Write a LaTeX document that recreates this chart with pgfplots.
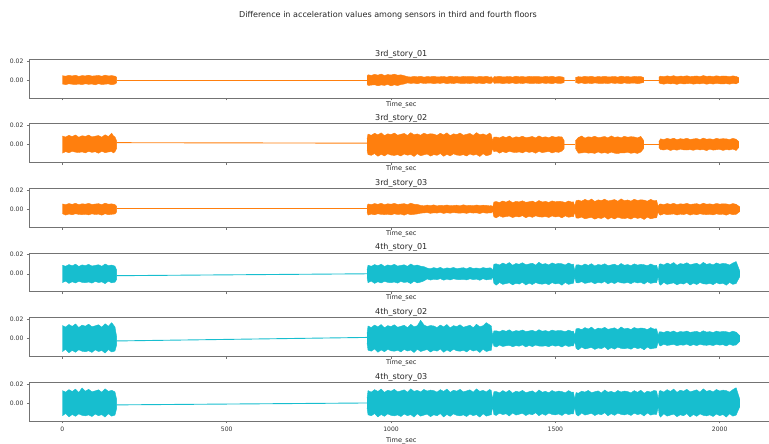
\documentclass[border=0pt]{standalone}
\usepackage{fontspec}
\setmainfont{DejaVu Sans}
\usepackage{pgfplots}
\pgfplotsset{compat=1.18}
\definecolor{tabor}{HTML}{FF7F0E}
\definecolor{tabcy}{HTML}{17BECF}
\pgfplotsset{
 panel/.style={
  scale only axis, width=739.5bp, height=38.8bp, anchor=south west,
  xmin=-100, xmax=2150, ymin=-0.0189, ymax=0.0218,
  axis x line=box, axis y line=left,
  axis line style={-, draw=black!55, line width=0.6bp},
  xtick={0,500,1000,1500,2000}, xticklabels={},
  ytick={0,0.02}, yticklabels={0.00,0.02}, scaled y ticks=false, scaled x ticks=false,
  xtick pos=left, ytick pos=left,
  tick align=outside, major tick length=2.5bp,
  tick style={draw=black!55, line width=0.5bp},
  ticklabel style={font=\fontsize{6.1}{7}\selectfont, text=black!80},
  /pgf/number format/assume math mode=true,
  xlabel={Time\_sec},
  xlabel style={at={(axis description cs:0.5,0)}, anchor=north, yshift=-2.5bp, xshift=2bp, font=\fontsize{6.6}{7.5}\selectfont, text=black!85, inner sep=0.5bp},
  every axis title/.style={at={(0.5,1)}, anchor=south, yshift=0bp, xshift=2bp, font=\fontsize{8.1}{9}\selectfont, text=black!85, inner sep=1bp},
 },
 band/.style={fill=#1, draw=#1, line width=0.4bp, line join=round, mark=none},
 conn/.style={color=#1, line width=0.9bp, mark=none},
}
\begin{document}
\begin{tikzpicture}
\useasboundingbox (0,0) rectangle (769bp,444bp);
\node[font=\fontsize{8.1}{9}\selectfont, text=black!85] at (388bp,429bp) {Difference in acceleration values among sensors in third and fourth floors};

% ---------- 3rd_story_01 ----------
\begin{axis}[panel, at={(29.5bp,346bp)}, title={3rd\_story\_01}]
\addplot[conn=tabor] coordinates {(165,0) (927,0)};
\addplot[conn=tabor] coordinates {(1527,0) (1561,0)};
\addplot[conn=tabor] coordinates {(1769,0) (1815,0)};
\addplot[band=tabor] coordinates {(0,0.0045)(10,0.0040)(20,0.0049)(30,0.0042)(40,0.0050)(50,0.0038)(60,0.0046)(70,0.0043)(80,0.0050)(90,0.0041)(100,0.0044)(110,0.0048)(120,0.0039)(130,0.0051)(140,0.0042)(150,0.0046)(160,0.0040)(165,0.0030)
(165,-0.0030)(160,-0.0043)(150,-0.0050)(140,-0.0041)(130,-0.0044)(120,-0.0048)(110,-0.0039)(100,-0.0051)(90,-0.0042)(80,-0.0046)(70,-0.0040)(60,-0.0049)(50,-0.0043)(40,-0.0047)(30,-0.0045)(20,-0.0040)(10,-0.0049)(0,-0.0042)};
\addplot[band=tabor] coordinates {(927,0.0040)(930,0.0055)(940,0.0048)(950,0.0059)(960,0.0051)(970,0.0062)(980,0.0047)(990,0.0057)(1000,0.0052)(1010,0.0061)(1020,0.0050)(1030,0.0054)(1040,0.0045)(1050,0.0035)(1060,0.0031)(1070,0.0038)(1080,0.0033)(1090,0.0039)(1100,0.0030)(1110,0.0036)(1120,0.0033)(1130,0.0039)(1140,0.0032)(1150,0.0034)(1160,0.0037)(1170,0.0030)(1180,0.0040)(1190,0.0033)(1200,0.0036)(1210,0.0031)(1220,0.0038)(1230,0.0034)(1240,0.0036)(1250,0.0035)(1260,0.0031)(1270,0.0038)(1280,0.0033)(1290,0.0039)(1300,0.0030)(1306,0.0034)(1310,0.0012)(1314,0.0036)(1320,0.0033)(1330,0.0039)(1340,0.0032)(1350,0.0034)(1360,0.0037)(1370,0.0030)(1380,0.0040)(1390,0.0033)(1400,0.0036)(1410,0.0031)(1420,0.0038)(1430,0.0034)(1440,0.0036)(1450,0.0035)(1460,0.0031)(1470,0.0038)(1480,0.0033)(1490,0.0039)(1500,0.0030)(1510,0.0036)(1520,0.0033)(1527,0.0025)
(1527,-0.0025)(1520,-0.0034)(1510,-0.0037)(1500,-0.0030)(1490,-0.0040)(1480,-0.0033)(1470,-0.0036)(1460,-0.0031)(1450,-0.0038)(1440,-0.0034)(1430,-0.0036)(1420,-0.0035)(1410,-0.0031)(1400,-0.0038)(1390,-0.0033)(1380,-0.0039)(1370,-0.0030)(1360,-0.0036)(1350,-0.0033)(1340,-0.0039)(1330,-0.0032)(1320,-0.0034)(1314,-0.0035)(1310,-0.0012)(1306,-0.0033)(1300,-0.0037)(1290,-0.0030)(1280,-0.0040)(1270,-0.0033)(1260,-0.0036)(1250,-0.0031)(1240,-0.0038)(1230,-0.0034)(1220,-0.0036)(1210,-0.0035)(1200,-0.0031)(1190,-0.0038)(1180,-0.0033)(1170,-0.0039)(1160,-0.0030)(1150,-0.0036)(1140,-0.0033)(1130,-0.0039)(1120,-0.0032)(1110,-0.0034)(1100,-0.0037)(1090,-0.0030)(1080,-0.0040)(1070,-0.0033)(1060,-0.0036)(1050,-0.0031)(1040,-0.0042)(1030,-0.0048)(1020,-0.0059)(1010,-0.0051)(1000,-0.0062)(990,-0.0047)(980,-0.0057)(970,-0.0052)(960,-0.0061)(950,-0.0050)(940,-0.0054)(930,-0.0058)(927,-0.0040)};
\addplot[band=tabor] coordinates {(1561,0.0025)(1570,0.0035)(1580,0.0031)(1590,0.0038)(1600,0.0033)(1610,0.0039)(1620,0.0030)(1630,0.0036)(1640,0.0033)(1650,0.0039)(1660,0.0032)(1670,0.0034)(1680,0.0037)(1690,0.0030)(1700,0.0040)(1710,0.0033)(1720,0.0036)(1730,0.0031)(1740,0.0038)(1750,0.0034)(1760,0.0036)(1769,0.0025)
(1769,-0.0025)(1760,-0.0033)(1750,-0.0039)(1740,-0.0032)(1730,-0.0034)(1720,-0.0037)(1710,-0.0030)(1700,-0.0040)(1690,-0.0033)(1680,-0.0036)(1670,-0.0031)(1660,-0.0038)(1650,-0.0034)(1640,-0.0036)(1630,-0.0035)(1620,-0.0031)(1610,-0.0038)(1600,-0.0033)(1590,-0.0039)(1580,-0.0030)(1570,-0.0036)(1561,-0.0025)};
\addplot[band=tabor] coordinates {(1815,0.0030)(1820,0.0040)(1830,0.0035)(1840,0.0043)(1850,0.0037)(1860,0.0045)(1870,0.0034)(1880,0.0041)(1890,0.0038)(1900,0.0044)(1910,0.0036)(1920,0.0039)(1930,0.0042)(1940,0.0035)(1950,0.0046)(1960,0.0038)(1970,0.0041)(1980,0.0036)(1990,0.0044)(2000,0.0038)(2010,0.0042)(2020,0.0040)(2030,0.0035)(2040,0.0043)(2050,0.0037)(2058,0.0025)
(2058,-0.0025)(2050,-0.0041)(2040,-0.0036)(2030,-0.0044)(2020,-0.0038)(2010,-0.0042)(2000,-0.0040)(1990,-0.0035)(1980,-0.0043)(1970,-0.0037)(1960,-0.0045)(1950,-0.0034)(1940,-0.0041)(1930,-0.0038)(1920,-0.0044)(1910,-0.0036)(1900,-0.0039)(1890,-0.0042)(1880,-0.0035)(1870,-0.0046)(1860,-0.0038)(1850,-0.0041)(1840,-0.0036)(1830,-0.0044)(1820,-0.0038)(1815,-0.0030)};
\end{axis}

% ---------- 3rd_story_02 ----------
\begin{axis}[panel, at={(29.5bp,281.4bp)}, title={3rd\_story\_02}]
\addplot[conn=tabor] coordinates {(165,0.002) (927,0.0015)};
\addplot[conn=tabor] coordinates {(1527,0.0005) (1561,0.0005)};
\addplot[conn=tabor] coordinates {(1769,0.0005) (1815,0.0005)};
\addplot[band=tabor] coordinates {(0,0.0090)(10,0.0079)(20,0.0097)(30,0.0084)(40,0.0101)(50,0.0077)(60,0.0093)(70,0.0086)(80,0.0099)(90,0.0081)(100,0.0088)(110,0.0095)(120,0.0078)(130,0.0103)(140,0.0085)(150,0.0120)(155,0.0092)(160,0.0080)(165,0.0040)
(165,-0.0040)(160,-0.0076)(155,-0.0088)(150,-0.0072)(140,-0.0078)(130,-0.0085)(120,-0.0070)(110,-0.0091)(100,-0.0075)(90,-0.0082)(80,-0.0071)(70,-0.0087)(60,-0.0077)(50,-0.0083)(40,-0.0080)(30,-0.0070)(20,-0.0086)(10,-0.0074)(0,-0.0090)};
\addplot[band=tabor] coordinates {(927,0.0060)(930,0.0110)(940,0.0097)(950,0.0119)(960,0.0102)(970,0.0123)(980,0.0094)(990,0.0113)(1000,0.0105)(1010,0.0121)(1020,0.0099)(1030,0.0108)(1040,0.0117)(1050,0.0096)(1060,0.0125)(1070,0.0103)(1080,0.0112)(1090,0.0098)(1100,0.0120)(1110,0.0106)(1120,0.0114)(1130,0.0110)(1140,0.0097)(1150,0.0119)(1160,0.0102)(1170,0.0123)(1180,0.0094)(1190,0.0113)(1200,0.0105)(1210,0.0121)(1220,0.0099)(1230,0.0108)(1240,0.0117)(1250,0.0096)(1260,0.0125)(1270,0.0103)(1280,0.0112)(1290,0.0098)(1300,0.0120)(1305,0.0105)(1309,0.0040)(1313,0.0078)(1320,0.0080)(1330,0.0070)(1340,0.0086)(1350,0.0074)(1360,0.0090)(1370,0.0068)(1380,0.0082)(1390,0.0076)(1400,0.0088)(1410,0.0072)(1420,0.0078)(1430,0.0085)(1440,0.0070)(1450,0.0091)(1460,0.0075)(1470,0.0082)(1480,0.0071)(1490,0.0087)(1500,0.0077)(1510,0.0083)(1520,0.0080)(1527,0.0040)
(1527,-0.0040)(1520,-0.0068)(1510,-0.0082)(1500,-0.0076)(1490,-0.0088)(1480,-0.0072)(1470,-0.0078)(1460,-0.0085)(1450,-0.0070)(1440,-0.0091)(1430,-0.0075)(1420,-0.0082)(1410,-0.0071)(1400,-0.0087)(1390,-0.0077)(1380,-0.0083)(1370,-0.0080)(1360,-0.0070)(1350,-0.0086)(1340,-0.0074)(1330,-0.0090)(1320,-0.0068)(1313,-0.0075)(1309,-0.0040)(1305,-0.0100)(1300,-0.0108)(1290,-0.0117)(1280,-0.0096)(1270,-0.0125)(1260,-0.0103)(1250,-0.0112)(1240,-0.0098)(1230,-0.0120)(1220,-0.0106)(1210,-0.0114)(1200,-0.0110)(1190,-0.0097)(1180,-0.0119)(1170,-0.0102)(1160,-0.0123)(1150,-0.0094)(1140,-0.0113)(1130,-0.0105)(1120,-0.0121)(1110,-0.0099)(1100,-0.0108)(1090,-0.0117)(1080,-0.0096)(1070,-0.0125)(1060,-0.0103)(1050,-0.0112)(1040,-0.0098)(1030,-0.0120)(1020,-0.0106)(1010,-0.0114)(1000,-0.0110)(990,-0.0097)(980,-0.0119)(970,-0.0102)(960,-0.0123)(950,-0.0094)(940,-0.0113)(930,-0.0105)(927,-0.0060)};
\addplot[band=tabor] coordinates {(1561,0.0040)(1570,0.0074)(1580,0.0090)(1590,0.0068)(1600,0.0082)(1610,0.0076)(1620,0.0088)(1630,0.0072)(1640,0.0078)(1650,0.0085)(1660,0.0070)(1670,0.0091)(1680,0.0075)(1690,0.0082)(1700,0.0071)(1710,0.0087)(1720,0.0077)(1730,0.0083)(1740,0.0080)(1750,0.0070)(1760,0.0086)(1769,0.0040)
(1769,-0.0040)(1760,-0.0078)(1750,-0.0093)(1740,-0.0085)(1730,-0.0092)(1720,-0.0080)(1710,-0.0088)(1700,-0.0086)(1690,-0.0094)(1680,-0.0090)(1670,-0.0079)(1660,-0.0093)(1650,-0.0084)(1640,-0.0091)(1630,-0.0077)(1620,-0.0093)(1610,-0.0086)(1600,-0.0090)(1590,-0.0081)(1580,-0.0088)(1570,-0.0090)(1561,-0.0040)};
\addplot[band=tabor] coordinates {(1815,0.0030)(1820,0.0060)(1830,0.0053)(1840,0.0065)(1850,0.0056)(1860,0.0067)(1870,0.0051)(1880,0.0062)(1890,0.0057)(1900,0.0066)(1910,0.0054)(1920,0.0059)(1930,0.0064)(1940,0.0052)(1950,0.0068)(1960,0.0056)(1970,0.0061)(1980,0.0053)(1990,0.0065)(2000,0.0058)(2010,0.0062)(2020,0.0060)(2030,0.0053)(2040,0.0065)(2050,0.0056)(2058,0.0030)
(2058,-0.0030)(2050,-0.0062)(2040,-0.0047)(2030,-0.0057)(2020,-0.0052)(2010,-0.0061)(2000,-0.0050)(1990,-0.0054)(1980,-0.0058)(1970,-0.0048)(1960,-0.0063)(1950,-0.0052)(1940,-0.0056)(1930,-0.0049)(1920,-0.0060)(1910,-0.0053)(1900,-0.0057)(1890,-0.0055)(1880,-0.0048)(1870,-0.0059)(1860,-0.0051)(1850,-0.0062)(1840,-0.0047)(1830,-0.0057)(1820,-0.0052)(1815,-0.0030)};
\end{axis}

% ---------- 3rd_story_03 ----------
\begin{axis}[panel, at={(29.5bp,216.8bp)}, title={3rd\_story\_03}]
\addplot[conn=tabor] coordinates {(165,0.0005) (927,0.0005)};
\addplot[band=tabor] coordinates {(0,0.0055)(10,0.0048)(20,0.0059)(30,0.0051)(40,0.0062)(50,0.0047)(60,0.0057)(70,0.0052)(80,0.0061)(90,0.0050)(100,0.0054)(110,0.0058)(120,0.0048)(130,0.0063)(140,0.0052)(150,0.0056)(160,0.0049)(165,0.0030)
(165,-0.0030)(160,-0.0050)(150,-0.0054)(140,-0.0058)(130,-0.0048)(120,-0.0063)(110,-0.0052)(100,-0.0056)(90,-0.0049)(80,-0.0060)(70,-0.0053)(60,-0.0057)(50,-0.0055)(40,-0.0048)(30,-0.0059)(20,-0.0051)(10,-0.0062)(0,-0.0047)};
\addplot[band=tabor] coordinates {(927,0.0030)(930,0.0055)(940,0.0048)(950,0.0059)(960,0.0051)(970,0.0062)(980,0.0047)(990,0.0057)(1000,0.0052)(1010,0.0061)(1020,0.0050)(1030,0.0054)(1040,0.0058)(1050,0.0048)(1060,0.0063)(1070,0.0052)(1080,0.0050)(1090,0.0040)(1100,0.0035)(1110,0.0043)(1120,0.0037)(1130,0.0045)(1140,0.0034)(1150,0.0041)(1160,0.0038)(1170,0.0044)(1180,0.0036)(1190,0.0039)(1200,0.0042)(1210,0.0035)(1220,0.0046)(1230,0.0038)(1240,0.0041)(1250,0.0036)(1260,0.0044)(1270,0.0038)(1280,0.0042)(1290,0.0040)(1300,0.0035)(1305,0.0038)(1309,0.0020)(1313,0.0075)(1320,0.0080)(1330,0.0070)(1340,0.0086)(1350,0.0074)(1360,0.0090)(1370,0.0068)(1380,0.0082)(1390,0.0076)(1400,0.0088)(1410,0.0072)(1420,0.0078)(1430,0.0085)(1440,0.0070)(1450,0.0091)(1460,0.0075)(1470,0.0082)(1480,0.0071)(1490,0.0087)(1500,0.0077)(1510,0.0083)(1520,0.0080)(1530,0.0070)(1540,0.0086)(1550,0.0074)(1555,0.0078)(1559,0.0030)(1563,0.0090)(1570,0.0095)(1580,0.0084)(1590,0.0103)(1600,0.0088)(1610,0.0106)(1620,0.0081)(1630,0.0098)(1640,0.0090)(1650,0.0105)(1660,0.0086)(1670,0.0093)(1680,0.0101)(1690,0.0083)(1700,0.0108)(1710,0.0089)(1720,0.0097)(1730,0.0085)(1740,0.0104)(1750,0.0091)(1760,0.0099)(1770,0.0095)(1780,0.0084)(1790,0.0103)(1800,0.0088)(1808,0.0092)(1813,0.0025)(1816,0.0052)(1820,0.0055)(1830,0.0048)(1840,0.0059)(1850,0.0051)(1860,0.0062)(1870,0.0047)(1880,0.0057)(1890,0.0052)(1900,0.0061)(1910,0.0050)(1920,0.0054)(1930,0.0058)(1940,0.0048)(1950,0.0063)(1960,0.0052)(1970,0.0056)(1980,0.0049)(1990,0.0060)(2000,0.0053)(2010,0.0057)(2020,0.0055)(2030,0.0048)(2040,0.0059)(2050,0.0051)(2061,0.0025)
(2061,-0.0025)(2050,-0.0054)(2040,-0.0058)(2030,-0.0048)(2020,-0.0063)(2010,-0.0052)(2000,-0.0056)(1990,-0.0049)(1980,-0.0060)(1970,-0.0053)(1960,-0.0057)(1950,-0.0055)(1940,-0.0048)(1930,-0.0059)(1920,-0.0051)(1910,-0.0062)(1900,-0.0047)(1890,-0.0057)(1880,-0.0052)(1870,-0.0061)(1860,-0.0050)(1850,-0.0054)(1840,-0.0058)(1830,-0.0048)(1820,-0.0063)(1816,-0.0055)(1813,-0.0025)(1808,-0.0090)(1800,-0.0093)(1790,-0.0101)(1780,-0.0083)(1770,-0.0108)(1760,-0.0089)(1750,-0.0097)(1740,-0.0085)(1730,-0.0104)(1720,-0.0091)(1710,-0.0099)(1700,-0.0095)(1690,-0.0084)(1680,-0.0103)(1670,-0.0088)(1660,-0.0106)(1650,-0.0081)(1640,-0.0098)(1630,-0.0090)(1620,-0.0105)(1610,-0.0086)(1600,-0.0093)(1590,-0.0101)(1580,-0.0083)(1570,-0.0095)(1563,-0.0092)(1559,-0.0030)(1555,-0.0080)(1550,-0.0078)(1540,-0.0085)(1530,-0.0070)(1520,-0.0091)(1510,-0.0075)(1500,-0.0082)(1490,-0.0071)(1480,-0.0087)(1470,-0.0077)(1460,-0.0083)(1450,-0.0080)(1440,-0.0070)(1430,-0.0086)(1420,-0.0074)(1410,-0.0090)(1400,-0.0068)(1390,-0.0082)(1380,-0.0076)(1370,-0.0088)(1360,-0.0072)(1350,-0.0078)(1340,-0.0085)(1330,-0.0070)(1320,-0.0091)(1313,-0.0080)(1309,-0.0020)(1305,-0.0040)(1300,-0.0039)(1290,-0.0042)(1280,-0.0035)(1270,-0.0046)(1260,-0.0038)(1250,-0.0041)(1240,-0.0036)(1230,-0.0044)(1220,-0.0038)(1210,-0.0042)(1200,-0.0040)(1190,-0.0035)(1180,-0.0043)(1170,-0.0037)(1160,-0.0045)(1150,-0.0034)(1140,-0.0041)(1130,-0.0038)(1120,-0.0044)(1110,-0.0036)(1100,-0.0039)(1090,-0.0042)(1080,-0.0050)(1070,-0.0054)(1060,-0.0058)(1050,-0.0048)(1040,-0.0063)(1030,-0.0052)(1020,-0.0056)(1010,-0.0049)(1000,-0.0060)(990,-0.0053)(980,-0.0057)(970,-0.0055)(960,-0.0048)(950,-0.0059)(940,-0.0051)(930,-0.0062)(927,-0.0030)};
\end{axis}

% ---------- 4th_story_01 ----------
\begin{axis}[panel, at={(29.5bp,152.2bp)}, title={4th\_story\_01}]
\addplot[conn=tabcy] coordinates {(165,-0.002) (927,0)};
\addplot[band=tabcy] coordinates {(0,0.0090)(10,0.0079)(20,0.0097)(30,0.0084)(40,0.0101)(50,0.0077)(60,0.0093)(70,0.0086)(80,0.0099)(90,0.0081)(100,0.0088)(110,0.0095)(120,0.0078)(130,0.0103)(140,0.0085)(150,0.0092)(160,0.0080)(165,0.0040)
(165,-0.0060)(160,-0.0088)(150,-0.0095)(140,-0.0078)(130,-0.0103)(120,-0.0085)(110,-0.0092)(100,-0.0080)(90,-0.0098)(80,-0.0086)(70,-0.0094)(60,-0.0090)(50,-0.0079)(40,-0.0097)(30,-0.0084)(20,-0.0101)(10,-0.0077)(0,-0.0093)};
\addplot[band=tabcy] coordinates {(927,0.0040)(930,0.0090)(940,0.0079)(950,0.0097)(960,0.0084)(970,0.0101)(980,0.0077)(990,0.0093)(1000,0.0086)(1010,0.0099)(1020,0.0081)(1030,0.0088)(1040,0.0095)(1050,0.0078)(1060,0.0103)(1070,0.0085)(1080,0.0092)(1090,0.0080)(1100,0.0075)(1110,0.0060)(1120,0.0053)(1130,0.0065)(1140,0.0056)(1150,0.0067)(1160,0.0051)(1170,0.0062)(1180,0.0057)(1190,0.0066)(1200,0.0054)(1210,0.0059)(1220,0.0064)(1230,0.0052)(1240,0.0068)(1250,0.0056)(1260,0.0061)(1270,0.0053)(1280,0.0065)(1290,0.0058)(1300,0.0062)(1305,0.0060)(1309,0.0030)(1313,0.0100)(1320,0.0105)(1330,0.0092)(1340,0.0113)(1350,0.0098)(1360,0.0118)(1370,0.0089)(1380,0.0108)(1390,0.0100)(1400,0.0116)(1410,0.0095)(1420,0.0103)(1430,0.0111)(1440,0.0091)(1450,0.0120)(1460,0.0099)(1470,0.0107)(1480,0.0093)(1490,0.0114)(1500,0.0101)(1510,0.0109)(1520,0.0105)(1530,0.0092)(1540,0.0113)(1550,0.0098)(1555,0.0102)(1559,0.0030)(1563,0.0092)(1570,0.0095)(1580,0.0084)(1590,0.0103)(1600,0.0088)(1610,0.0106)(1620,0.0081)(1630,0.0098)(1640,0.0090)(1650,0.0105)(1660,0.0086)(1670,0.0093)(1680,0.0101)(1690,0.0083)(1700,0.0108)(1710,0.0089)(1720,0.0097)(1730,0.0085)(1740,0.0104)(1750,0.0091)(1760,0.0099)(1770,0.0095)(1780,0.0084)(1790,0.0103)(1800,0.0088)(1808,0.0090)(1813,0.0030)(1816,0.0100)(1820,0.0105)(1830,0.0092)(1840,0.0113)(1850,0.0098)(1860,0.0118)(1870,0.0089)(1880,0.0108)(1890,0.0100)(1900,0.0116)(1910,0.0095)(1920,0.0103)(1930,0.0111)(1940,0.0091)(1950,0.0120)(1960,0.0099)(1970,0.0107)(1980,0.0093)(1990,0.0114)(2000,0.0101)(2010,0.0109)(2020,0.0105)(2030,0.0092)(2040,0.0113)(2050,0.0128)(2061,0.0030)
(2061,-0.0030)(2050,-0.0103)(2040,-0.0111)(2030,-0.0091)(2020,-0.0120)(2010,-0.0099)(2000,-0.0107)(1990,-0.0093)(1980,-0.0114)(1970,-0.0101)(1960,-0.0109)(1950,-0.0105)(1940,-0.0092)(1930,-0.0113)(1920,-0.0098)(1910,-0.0118)(1900,-0.0089)(1890,-0.0108)(1880,-0.0100)(1870,-0.0116)(1860,-0.0095)(1850,-0.0103)(1840,-0.0111)(1830,-0.0091)(1820,-0.0120)(1816,-0.0105)(1813,-0.0030)(1808,-0.0092)(1800,-0.0093)(1790,-0.0101)(1780,-0.0083)(1770,-0.0108)(1760,-0.0089)(1750,-0.0097)(1740,-0.0085)(1730,-0.0104)(1720,-0.0091)(1710,-0.0099)(1700,-0.0095)(1690,-0.0084)(1680,-0.0103)(1670,-0.0088)(1660,-0.0106)(1650,-0.0081)(1640,-0.0098)(1630,-0.0090)(1620,-0.0105)(1610,-0.0086)(1600,-0.0093)(1590,-0.0101)(1580,-0.0083)(1570,-0.0095)(1563,-0.0094)(1559,-0.0030)(1555,-0.0100)(1550,-0.0103)(1540,-0.0111)(1530,-0.0091)(1520,-0.0120)(1510,-0.0099)(1500,-0.0107)(1490,-0.0093)(1480,-0.0114)(1470,-0.0101)(1460,-0.0109)(1450,-0.0105)(1440,-0.0092)(1430,-0.0113)(1420,-0.0098)(1410,-0.0118)(1400,-0.0089)(1390,-0.0108)(1380,-0.0100)(1370,-0.0116)(1360,-0.0095)(1350,-0.0103)(1340,-0.0111)(1330,-0.0091)(1320,-0.0120)(1313,-0.0100)(1309,-0.0030)(1305,-0.0060)(1300,-0.0059)(1290,-0.0064)(1280,-0.0052)(1270,-0.0068)(1260,-0.0056)(1250,-0.0061)(1240,-0.0053)(1230,-0.0065)(1220,-0.0058)(1210,-0.0062)(1200,-0.0060)(1190,-0.0053)(1180,-0.0065)(1170,-0.0056)(1160,-0.0067)(1150,-0.0051)(1140,-0.0062)(1130,-0.0057)(1120,-0.0066)(1110,-0.0054)(1100,-0.0075)(1090,-0.0088)(1080,-0.0095)(1070,-0.0078)(1060,-0.0103)(1050,-0.0085)(1040,-0.0092)(1030,-0.0080)(1020,-0.0098)(1010,-0.0086)(1000,-0.0094)(990,-0.0090)(980,-0.0079)(970,-0.0097)(960,-0.0084)(950,-0.0101)(940,-0.0077)(930,-0.0093)(927,-0.0040)};
\end{axis}

% ---------- 4th_story_02 ----------
\begin{axis}[panel, at={(29.5bp,87.6bp)}, title={4th\_story\_02}]
\addplot[conn=tabcy] coordinates {(165,-0.0027) (927,0.001)};
\addplot[band=tabcy] coordinates {(0,0.0135)(10,0.0119)(20,0.0146)(30,0.0126)(40,0.0151)(50,0.0115)(60,0.0139)(70,0.0128)(80,0.0149)(90,0.0122)(100,0.0132)(110,0.0143)(120,0.0117)(130,0.0154)(140,0.0127)(150,0.0165)(160,0.0120)(165,0.0020)
(165,-0.0070)(160,-0.0132)(150,-0.0143)(140,-0.0117)(130,-0.0154)(120,-0.0127)(110,-0.0138)(100,-0.0120)(90,-0.0147)(80,-0.0130)(70,-0.0140)(60,-0.0135)(50,-0.0119)(40,-0.0146)(30,-0.0126)(20,-0.0151)(10,-0.0115)(0,-0.0139)};
\addplot[band=tabcy] coordinates {(927,0.0050)(930,0.0130)(940,0.0114)(950,0.0140)(960,0.0121)(970,0.0146)(980,0.0111)(990,0.0134)(1000,0.0124)(1010,0.0143)(1020,0.0117)(1030,0.0127)(1040,0.0138)(1050,0.0113)(1060,0.0148)(1070,0.0122)(1080,0.0133)(1090,0.0190)(1100,0.0142)(1110,0.0125)(1120,0.0135)(1130,0.0130)(1140,0.0114)(1150,0.0140)(1160,0.0121)(1170,0.0146)(1180,0.0111)(1190,0.0134)(1200,0.0124)(1210,0.0143)(1220,0.0117)(1230,0.0127)(1240,0.0138)(1250,0.0113)(1260,0.0148)(1270,0.0122)(1280,0.0133)(1290,0.0165)(1300,0.0142)(1305,0.0130)(1309,0.0030)(1313,0.0078)(1320,0.0080)(1330,0.0070)(1340,0.0086)(1350,0.0074)(1360,0.0090)(1370,0.0068)(1380,0.0082)(1390,0.0076)(1400,0.0088)(1410,0.0072)(1420,0.0078)(1430,0.0085)(1440,0.0070)(1450,0.0091)(1460,0.0075)(1470,0.0082)(1480,0.0071)(1490,0.0087)(1500,0.0077)(1510,0.0083)(1520,0.0080)(1530,0.0070)(1540,0.0086)(1550,0.0074)(1555,0.0076)(1559,0.0030)(1563,0.0100)(1570,0.0105)(1580,0.0092)(1590,0.0113)(1600,0.0098)(1610,0.0118)(1620,0.0089)(1630,0.0108)(1640,0.0100)(1650,0.0116)(1660,0.0095)(1670,0.0103)(1680,0.0111)(1690,0.0091)(1700,0.0120)(1710,0.0099)(1720,0.0107)(1730,0.0093)(1740,0.0114)(1750,0.0101)(1760,0.0109)(1770,0.0105)(1780,0.0092)(1790,0.0113)(1800,0.0098)(1808,0.0100)(1813,0.0030)(1816,0.0068)(1820,0.0070)(1830,0.0062)(1840,0.0076)(1850,0.0065)(1860,0.0078)(1870,0.0060)(1880,0.0072)(1890,0.0067)(1900,0.0077)(1910,0.0063)(1920,0.0069)(1930,0.0074)(1940,0.0061)(1950,0.0080)(1960,0.0066)(1970,0.0071)(1980,0.0062)(1990,0.0076)(2000,0.0067)(2010,0.0073)(2020,0.0070)(2030,0.0062)(2040,0.0076)(2050,0.0065)(2061,0.0030)
(2061,-0.0030)(2050,-0.0069)(2040,-0.0074)(2030,-0.0061)(2020,-0.0080)(2010,-0.0066)(2000,-0.0071)(1990,-0.0062)(1980,-0.0076)(1970,-0.0067)(1960,-0.0073)(1950,-0.0070)(1940,-0.0062)(1930,-0.0076)(1920,-0.0065)(1910,-0.0078)(1900,-0.0060)(1890,-0.0072)(1880,-0.0067)(1870,-0.0077)(1860,-0.0063)(1850,-0.0069)(1840,-0.0074)(1830,-0.0061)(1820,-0.0080)(1816,-0.0070)(1813,-0.0030)(1808,-0.0100)(1800,-0.0103)(1790,-0.0111)(1780,-0.0091)(1770,-0.0120)(1760,-0.0099)(1750,-0.0107)(1740,-0.0093)(1730,-0.0114)(1720,-0.0101)(1710,-0.0109)(1700,-0.0105)(1690,-0.0092)(1680,-0.0113)(1670,-0.0098)(1660,-0.0118)(1650,-0.0089)(1640,-0.0108)(1630,-0.0100)(1620,-0.0116)(1610,-0.0095)(1600,-0.0103)(1590,-0.0111)(1580,-0.0091)(1570,-0.0120)(1563,-0.0105)(1559,-0.0030)(1555,-0.0080)(1550,-0.0078)(1540,-0.0085)(1530,-0.0070)(1520,-0.0091)(1510,-0.0075)(1500,-0.0082)(1490,-0.0071)(1480,-0.0087)(1470,-0.0077)(1460,-0.0083)(1450,-0.0080)(1440,-0.0070)(1430,-0.0086)(1420,-0.0074)(1410,-0.0090)(1400,-0.0068)(1390,-0.0082)(1380,-0.0076)(1370,-0.0088)(1360,-0.0072)(1350,-0.0078)(1340,-0.0085)(1330,-0.0070)(1320,-0.0091)(1313,-0.0080)(1309,-0.0030)(1305,-0.0125)(1300,-0.0127)(1290,-0.0138)(1280,-0.0113)(1270,-0.0148)(1260,-0.0122)(1250,-0.0133)(1240,-0.0116)(1230,-0.0142)(1220,-0.0125)(1210,-0.0135)(1200,-0.0130)(1190,-0.0114)(1180,-0.0140)(1170,-0.0121)(1160,-0.0146)(1150,-0.0111)(1140,-0.0134)(1130,-0.0124)(1120,-0.0143)(1110,-0.0117)(1100,-0.0127)(1090,-0.0138)(1080,-0.0113)(1070,-0.0148)(1060,-0.0122)(1050,-0.0133)(1040,-0.0116)(1030,-0.0142)(1020,-0.0125)(1010,-0.0135)(1000,-0.0130)(990,-0.0114)(980,-0.0140)(970,-0.0121)(960,-0.0146)(950,-0.0111)(940,-0.0134)(930,-0.0124)(927,-0.0050)};
\end{axis}

% ---------- 4th_story_03 ----------
\begin{axis}[panel, at={(29.5bp,23bp)}, title={4th\_story\_03}, xticklabels={0,500,1000,1500,2000}, xlabel style={yshift=-13bp}]
\addplot[conn=tabcy] coordinates {(165,-0.002) (927,0)};
\addplot[band=tabcy] coordinates {(0,0.0130)(10,0.0114)(20,0.0140)(30,0.0121)(40,0.0146)(50,0.0111)(60,0.0158)(70,0.0124)(80,0.0143)(90,0.0117)(100,0.0127)(110,0.0138)(120,0.0113)(130,0.0148)(140,0.0122)(150,0.0133)(160,0.0116)(165,0.0040)
(165,-0.0060)(160,-0.0127)(150,-0.0138)(140,-0.0113)(130,-0.0148)(120,-0.0122)(110,-0.0133)(100,-0.0116)(90,-0.0142)(80,-0.0125)(70,-0.0135)(60,-0.0130)(50,-0.0114)(40,-0.0140)(30,-0.0121)(20,-0.0146)(10,-0.0111)(0,-0.0134)};
\addplot[band=tabcy] coordinates {(927,0.0050)(930,0.0130)(940,0.0114)(950,0.0140)(960,0.0121)(970,0.0146)(980,0.0111)(990,0.0134)(1000,0.0124)(1010,0.0143)(1020,0.0117)(1030,0.0127)(1040,0.0138)(1050,0.0113)(1060,0.0148)(1070,0.0122)(1080,0.0133)(1090,0.0116)(1100,0.0142)(1110,0.0125)(1120,0.0135)(1130,0.0130)(1140,0.0114)(1150,0.0140)(1160,0.0121)(1170,0.0146)(1180,0.0111)(1190,0.0134)(1200,0.0124)(1210,0.0143)(1220,0.0117)(1230,0.0127)(1240,0.0138)(1250,0.0113)(1260,0.0148)(1270,0.0122)(1280,0.0133)(1290,0.0116)(1300,0.0142)(1305,0.0130)(1309,0.0040)(1313,0.0118)(1320,0.0120)(1330,0.0106)(1340,0.0130)(1350,0.0112)(1360,0.0134)(1370,0.0102)(1380,0.0124)(1390,0.0114)(1400,0.0132)(1410,0.0108)(1420,0.0118)(1430,0.0127)(1440,0.0104)(1450,0.0137)(1460,0.0113)(1470,0.0122)(1480,0.0107)(1490,0.0131)(1500,0.0115)(1510,0.0125)(1520,0.0120)(1530,0.0106)(1540,0.0130)(1550,0.0112)(1555,0.0115)(1559,0.0040)(1563,0.0110)(1570,0.0102)(1580,0.0124)(1590,0.0114)(1600,0.0132)(1610,0.0108)(1620,0.0118)(1630,0.0127)(1640,0.0104)(1650,0.0137)(1660,0.0113)(1670,0.0122)(1680,0.0107)(1690,0.0131)(1700,0.0115)(1710,0.0125)(1720,0.0120)(1730,0.0106)(1740,0.0130)(1750,0.0112)(1760,0.0134)(1770,0.0102)(1780,0.0124)(1790,0.0114)(1800,0.0132)(1808,0.0125)(1813,0.0040)(1816,0.0125)(1820,0.0130)(1830,0.0114)(1840,0.0140)(1850,0.0121)(1860,0.0146)(1870,0.0111)(1880,0.0134)(1890,0.0124)(1900,0.0143)(1910,0.0117)(1920,0.0127)(1930,0.0138)(1940,0.0113)(1950,0.0148)(1960,0.0122)(1970,0.0133)(1980,0.0116)(1990,0.0142)(2000,0.0125)(2010,0.0135)(2020,0.0130)(2030,0.0114)(2040,0.0140)(2050,0.0160)(2061,0.0040)
(2061,-0.0040)(2050,-0.0127)(2040,-0.0138)(2030,-0.0113)(2020,-0.0148)(2010,-0.0122)(2000,-0.0133)(1990,-0.0116)(1980,-0.0142)(1970,-0.0125)(1960,-0.0135)(1950,-0.0130)(1940,-0.0114)(1930,-0.0140)(1920,-0.0121)(1910,-0.0146)(1900,-0.0111)(1890,-0.0134)(1880,-0.0124)(1870,-0.0143)(1860,-0.0117)(1850,-0.0127)(1840,-0.0138)(1830,-0.0113)(1820,-0.0148)(1816,-0.0128)(1813,-0.0040)(1808,-0.0120)(1800,-0.0118)(1790,-0.0127)(1780,-0.0104)(1770,-0.0137)(1760,-0.0113)(1750,-0.0122)(1740,-0.0107)(1730,-0.0131)(1720,-0.0115)(1710,-0.0125)(1700,-0.0120)(1690,-0.0106)(1680,-0.0130)(1670,-0.0112)(1660,-0.0134)(1650,-0.0102)(1640,-0.0124)(1630,-0.0114)(1620,-0.0132)(1610,-0.0108)(1600,-0.0118)(1590,-0.0127)(1580,-0.0104)(1570,-0.0137)(1563,-0.0120)(1559,-0.0040)(1555,-0.0115)(1550,-0.0113)(1540,-0.0122)(1530,-0.0107)(1520,-0.0131)(1510,-0.0115)(1500,-0.0125)(1490,-0.0120)(1480,-0.0106)(1470,-0.0130)(1460,-0.0112)(1450,-0.0134)(1440,-0.0102)(1430,-0.0124)(1420,-0.0114)(1410,-0.0132)(1400,-0.0108)(1390,-0.0118)(1380,-0.0127)(1370,-0.0104)(1360,-0.0137)(1350,-0.0113)(1340,-0.0122)(1330,-0.0107)(1320,-0.0131)(1313,-0.0122)(1309,-0.0040)(1305,-0.0125)(1300,-0.0127)(1290,-0.0138)(1280,-0.0113)(1270,-0.0148)(1260,-0.0122)(1250,-0.0133)(1240,-0.0116)(1230,-0.0142)(1220,-0.0125)(1210,-0.0135)(1200,-0.0130)(1190,-0.0114)(1180,-0.0140)(1170,-0.0121)(1160,-0.0146)(1150,-0.0111)(1140,-0.0134)(1130,-0.0124)(1120,-0.0143)(1110,-0.0117)(1100,-0.0127)(1090,-0.0138)(1080,-0.0113)(1070,-0.0148)(1060,-0.0122)(1050,-0.0133)(1040,-0.0116)(1030,-0.0142)(1020,-0.0125)(1010,-0.0135)(1000,-0.0130)(990,-0.0114)(980,-0.0140)(970,-0.0121)(960,-0.0146)(950,-0.0111)(940,-0.0134)(930,-0.0124)(927,-0.0050)};
\end{axis}
\end{tikzpicture}
\end{document}
